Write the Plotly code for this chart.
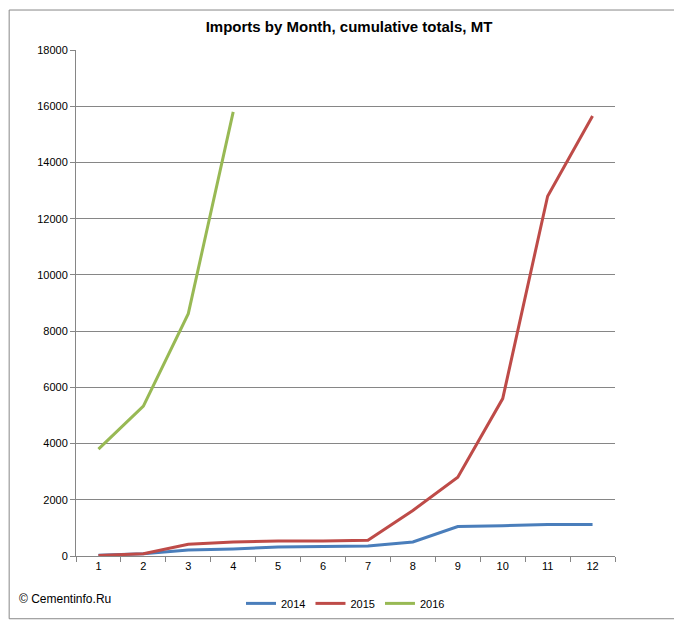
import plotly.graph_objs as go

months = [str(m) for m in range(1, 13)]
imports_2014 = [30, 80, 210, 250, 320, 330, 360, 500, 1050, 1080, 1120, 1120]
imports_2015 = [20, 80, 420, 500, 530, 530, 560, 1620, 2800, 5600, 12800, 15650]
imports_2016 = [3800, 5330, 8620, 15800]

fig = go.Figure()
fig.add_trace(go.Scatter(x=months, y=imports_2014, mode='lines', name='2014',
                         line=dict(color='#4a7ebb', width=3)))
fig.add_trace(go.Scatter(x=months, y=imports_2015, mode='lines', name='2015',
                         line=dict(color='#be4b48', width=3)))
fig.add_trace(go.Scatter(x=months[:4], y=imports_2016, mode='lines', name='2016',
                         line=dict(color='#98b954', width=3)))

fig.update_layout(
    width=682, height=622,
    margin=dict(l=68, r=75, t=42, b=65),
    paper_bgcolor='white', plot_bgcolor='white',
    font=dict(family='Liberation Sans, Arial', size=11, color='#000'),
    title=dict(text='<b>Imports by Month, cumulative totals, MT</b>', x=0.5, y=0.97,
               xanchor='center', yanchor='middle', font=dict(size=15)),
    legend=dict(orientation='h', x=0.5, xanchor='center', y=-0.065, yanchor='top',
                font=dict(size=11), bgcolor='rgba(0,0,0,0)'),
    shapes=[dict(type='rect', xref='paper', yref='paper', x0=-0.124, x1=1.137,
                 y0=-0.124, y1=1.079, line=dict(color='#888', width=1))],
    annotations=[dict(text='© Cementinfo.Ru', xref='paper', yref='paper', x=-0.11,
                      y=-0.085, xanchor='left', yanchor='middle', showarrow=False,
                      font=dict(size=12))],
)
fig.update_xaxes(type='category', range=[-0.5, 11.5], showgrid=False, showline=True,
                 linecolor='#868686', ticks='outside', tickson='boundaries', ticklen=5,
                 tickcolor='#868686')
fig.update_yaxes(range=[0, 18000], dtick=2000, gridcolor='#868686', showline=True,
                 linecolor='#868686', ticks='outside', ticklen=5, tickcolor='#868686',
                 zeroline=False, tickformat='d')

fig.write_html("out.html")
